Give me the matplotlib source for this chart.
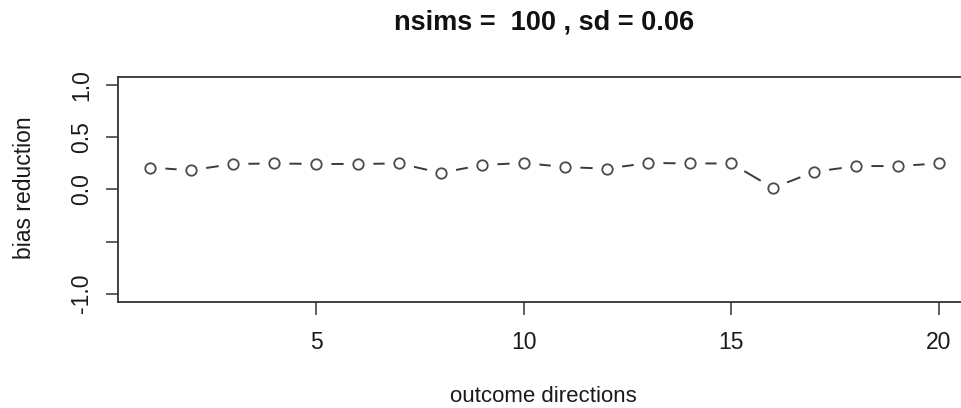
import numpy as np
import matplotlib
matplotlib.use('Agg')
import matplotlib.pyplot as plt

# valores
directions = list(range(1, 21))
bias_reduction = [0.21, 0.185, 0.245, 0.25, 0.245, 0.245, 0.25, 0.16, 0.235, 0.255,
                  0.215, 0.20, 0.255, 0.25, 0.25, 0.015, 0.17, 0.225, 0.225, 0.25]
x_ticks = [5, 10, 15, 20]
y_ticks = [-1.0, -0.5, 0.0, 0.5, 1.0]
y_tick_labels = ['-1.0', '', '0.0', '0.5', '1.0']   # R omite o -0.5 (sobreposição)

plt.rcParams['font.family'] = ['Liberation Sans', 'DejaVu Sans']

fig = plt.figure(figsize=(9.61, 4.08), dpi=100)
ax = fig.add_axes([0.1231, 0.2598, 0.8869, 0.5515])

# type = "b": linha com espaços em volta dos pontos
ax.plot(directions, bias_reduction, color='#3a3a3a', linewidth=1.4, zorder=1)
ax.plot(directions, bias_reduction, linestyle='none', marker='o', markersize=21.5,
        markerfacecolor='white', markeredgecolor='none', zorder=2)
ax.plot(directions, bias_reduction, linestyle='none', marker='o', markersize=7.5,
        markerfacecolor='white', markeredgecolor='#4a4a4a', markeredgewidth=1.3, zorder=3)

ax.set_xlim(0.24, 20.76)
ax.set_ylim(-1.08, 1.08)
ax.set_xticks(x_ticks)
ax.set_yticks(y_ticks)
ax.set_yticklabels(y_tick_labels, rotation=90, va='center')

for s in ax.spines.values():
    s.set_color('#333333')
    s.set_linewidth(1.3)
ax.tick_params(axis='both', length=9, width=1.1, color='#333333', labelsize=16.5,
               labelcolor='#1a1a1a')
ax.tick_params(axis='x', pad=12)
ax.tick_params(axis='y', pad=9)

fig.text(544 / 961, 1 - 22 / 408, 'nsims =  100 , sd = 0.06', ha='center', va='center',
         fontsize=19.5, fontweight='bold', color='#111111')
fig.text(543 / 961, 1 - 396 / 408, 'outcome directions', ha='center', va='center',
         fontsize=16, color='#1a1a1a')
fig.text(25 / 961, 1 - 188 / 408, 'bias reduction', ha='center', va='center',
         rotation=90, fontsize=16.5, color='#1a1a1a')

plt.savefig('out.png', dpi=100)
